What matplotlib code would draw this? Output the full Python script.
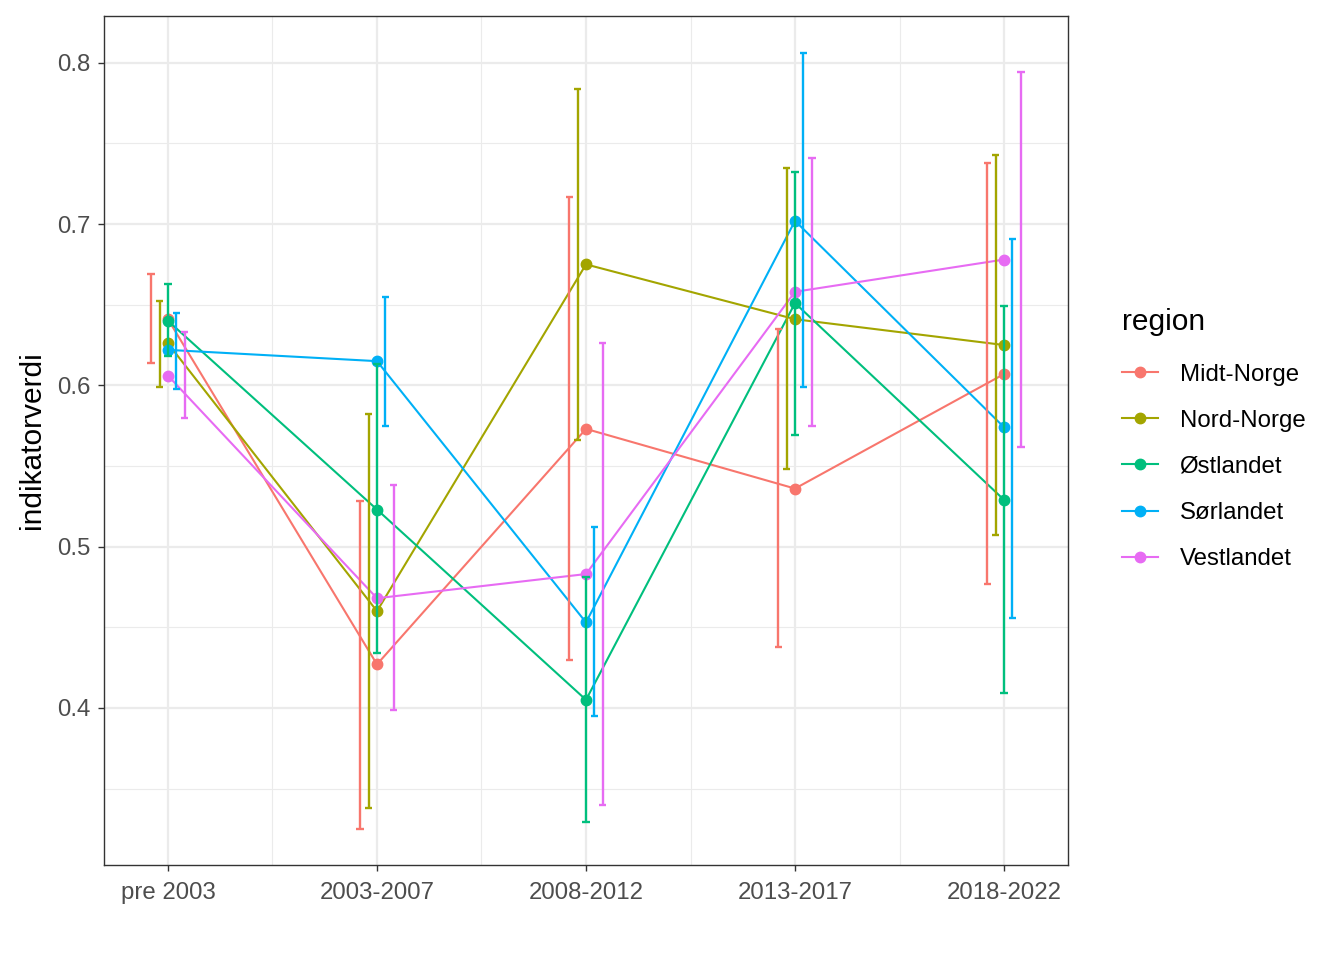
import matplotlib.pyplot as plt
import numpy as np

plt.rcParams["font.family"] = ["Liberation Sans", "DejaVu Sans"]

periods = ["pre 2003", "2003-2007", "2008-2012", "2013-2017", "2018-2022"]
regions = ["Midt-Norge", "Nord-Norge", "Østlandet", "Sørlandet", "Vestlandet"]
colors = ["#F8766D", "#A3A500", "#00BF7D", "#00B0F6", "#E76BF3"]

# point estimates per region, one value per period
midt = [0.641, 0.427, 0.573, 0.536, 0.607]
nord = [0.626, 0.460, 0.675, 0.641, 0.625]
ost = [0.640, 0.523, 0.405, 0.651, 0.529]
sor = [0.622, 0.615, 0.453, 0.702, 0.574]
vest = [0.606, 0.468, 0.483, 0.658, 0.678]

# lower / upper limits of the error bars
midt_lo = [0.614, 0.325, 0.430, 0.438, 0.477]
midt_hi = [0.669, 0.528, 0.717, 0.635, 0.738]
nord_lo = [0.599, 0.338, 0.566, 0.548, 0.507]
nord_hi = [0.652, 0.582, 0.784, 0.735, 0.743]
ost_lo = [0.618, 0.434, 0.329, 0.569, 0.409]
ost_hi = [0.663, 0.613, 0.481, 0.732, 0.649]
sor_lo = [0.598, 0.575, 0.395, 0.599, 0.456]
sor_hi = [0.645, 0.655, 0.512, 0.806, 0.691]
vest_lo = [0.580, 0.399, 0.340, 0.575, 0.562]
vest_hi = [0.633, 0.538, 0.626, 0.741, 0.794]

values = [midt, nord, ost, sor, vest]
lows = [midt_lo, nord_lo, ost_lo, sor_lo, vest_lo]
highs = [midt_hi, nord_hi, ost_hi, sor_hi, vest_hi]

fig = plt.figure(figsize=(13.44, 9.6), dpi=100)
ax = fig.add_axes([104 / 1344, 95 / 960, 964 / 1344, 849 / 960])

x = np.arange(len(periods))
dodge = [-0.08, -0.04, 0.0, 0.04, 0.08]
cap = 0.018

for i, name in enumerate(regions):
    c = colors[i]
    ax.plot(x, values[i], "o-", color=c, lw=1.5, ms=7.5, zorder=3, label=name)
for i, name in enumerate(regions):
    c = colors[i]
    xs = x + dodge[i]
    lo = np.array(lows[i])
    hi = np.array(highs[i])
    ax.vlines(xs, lo, hi, color=c, lw=1.7, zorder=4)
    ax.hlines(lo, xs - cap, xs + cap, color=c, lw=1.7, zorder=4)
    ax.hlines(hi, xs - cap, xs + cap, color=c, lw=1.7, zorder=4)

ax.set_xlim(-0.306, 4.306)
ax.set_ylim(0.3026, 0.829)
ax.set_xticks(x)
ax.set_xticklabels(periods)
ax.set_yticks([0.4, 0.5, 0.6, 0.7, 0.8])
ax.set_yticks([0.35, 0.45, 0.55, 0.65, 0.75], minor=True)
ax.set_xticks(x[:-1] + 0.5, minor=True)
ax.grid(which="major", color="#EBEBEB", lw=1.6, zorder=0)
ax.grid(which="minor", color="#EBEBEB", lw=0.8, zorder=0)
ax.set_axisbelow(True)
ax.tick_params(which="major", length=4, width=1, color="#333333",
               labelsize=17.3, labelcolor="#4D4D4D")
ax.tick_params(axis="x", pad=8)
ax.tick_params(axis="y", pad=6)
ax.tick_params(which="minor", length=0)
for s in ax.spines.values():
    s.set_color("#333333")
    s.set_linewidth(1)

ax.set_ylabel("indikatorverdi", fontsize=21.5, labelpad=8)

leg = ax.legend(loc="upper left", bbox_to_anchor=(1.056, 0.656), frameon=False,
                title="region", fontsize=17.3, title_fontsize=21.5,
                handlelength=1.5, handletextpad=0.9, labelspacing=1.0,
                borderaxespad=0, borderpad=0)
leg._legend_box.align = "left"
leg._legend_box.sep = 20

fig.savefig("out.png", dpi=100)
